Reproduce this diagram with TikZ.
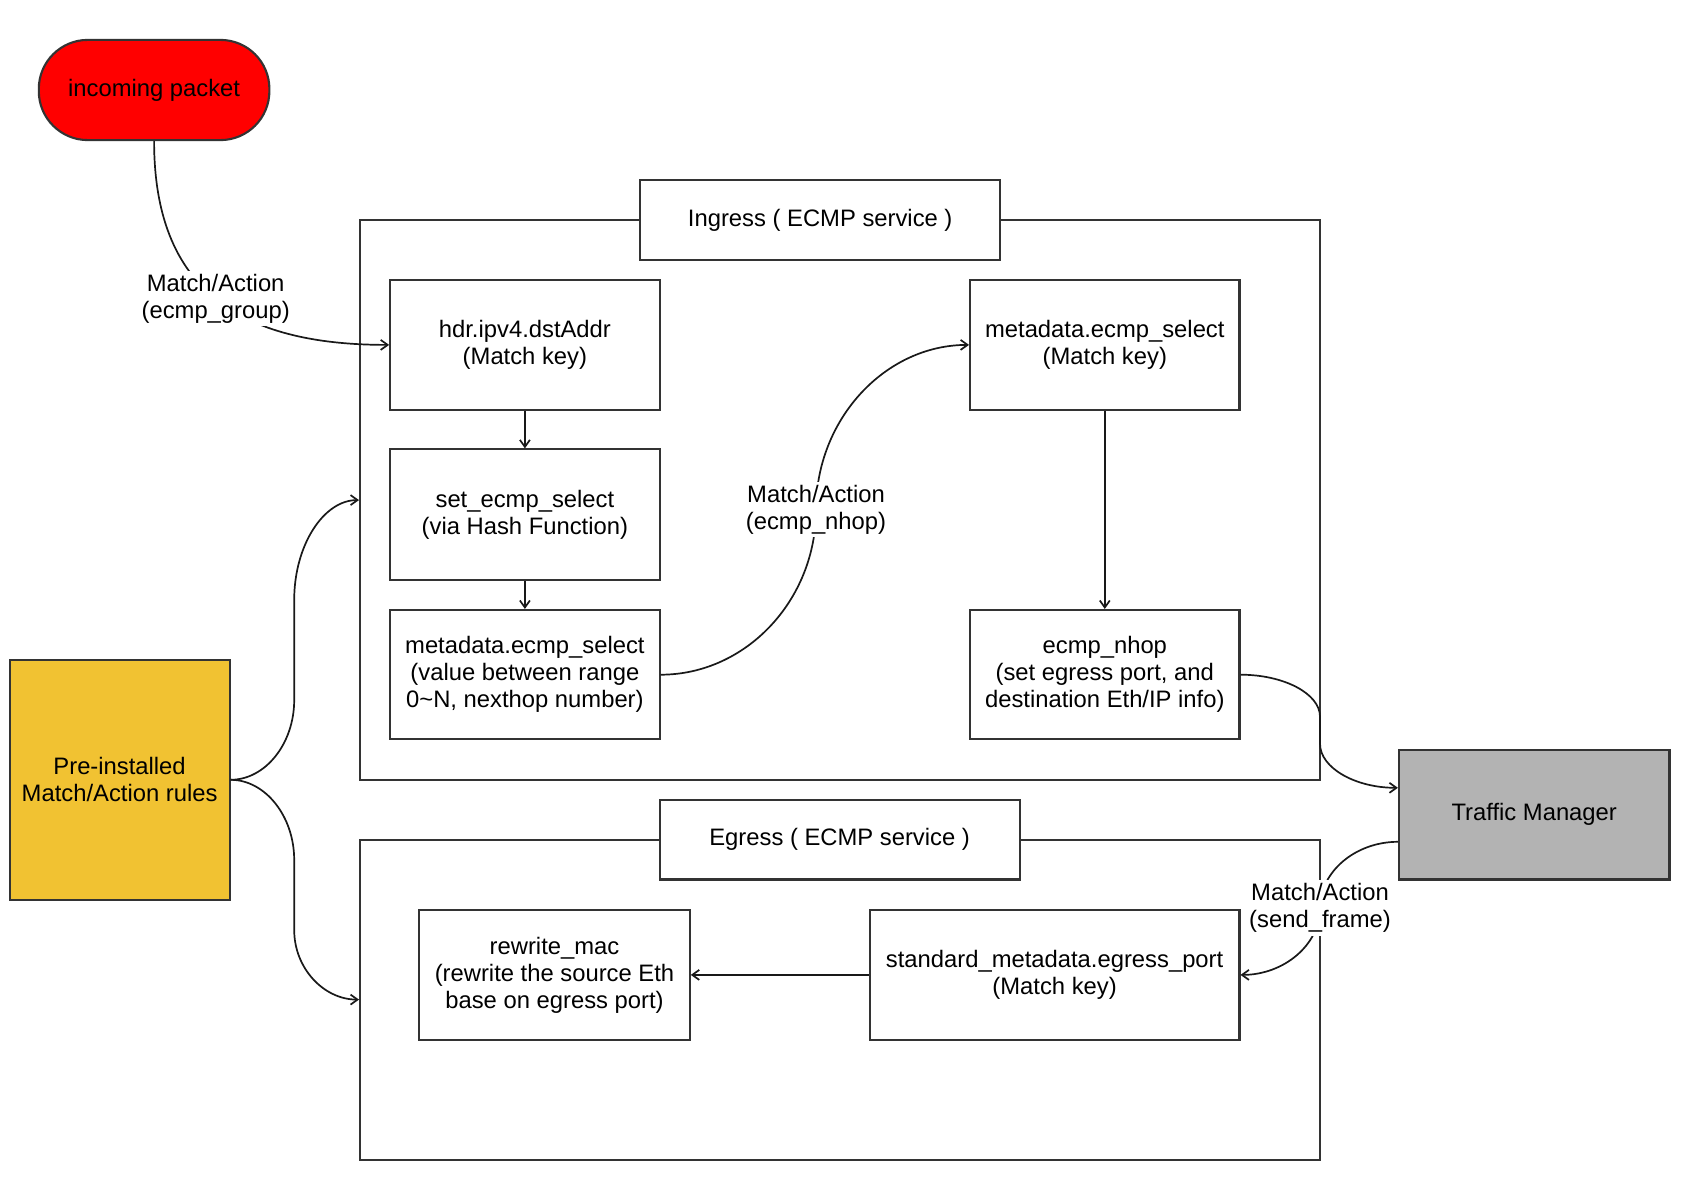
\documentclass[tikz,border=0pt]{standalone}
\usepackage{fontspec}
\setmainfont{Liberation Sans}
\usetikzlibrary{arrows.meta}
\definecolor{pktred}{HTML}{FF0000}
\definecolor{ruleyellow}{HTML}{F1C232}
\definecolor{tmgray}{HTML}{B3B3B3}
\definecolor{edgeline}{HTML}{333333}
\begin{document}
\begin{tikzpicture}[x=1pt,y=-1pt,
    every node/.style={font=\fontsize{23.8}{27}\selectfont,align=center,text=black},
    box/.style={draw=edgeline,line width=2.1pt,fill=white,minimum width=269.4pt,minimum height=129.4pt,inner sep=0pt},
    frame/.style={draw=edgeline,line width=2.1pt,minimum width=960.3pt,inner sep=0pt},
    title/.style={box,minimum width=360pt,minimum height=79.8pt},
    lbl/.style={fill=white,inner sep=3pt},
    flow/.style={-{Straight Barb[length=7pt,width=10pt]},line width=1.7pt,draw=black!90}]
    \useasboundingbox(0,0)rectangle(1690,1180);

    \node[frame,minimum height=560.4pt](ingress)at(840.2,500.1){};
    \node[frame,minimum height=320.1pt](egress)at(840.2,999.6){};
    \node[title](ingtitle)at(820.2,219.9){Ingress ( ECMP service )};
    \node[title](egrtitle)at(839.6,839.6){Egress ( ECMP service )};

    \node[box,fill=pktred,rounded corners=49pt,minimum width=230.6pt,minimum height=100.2pt](pkt)at(154.1,90){incoming packet};
    \node[box,fill=ruleyellow,minimum width=219.9pt,minimum height=240.4pt](rules)at(119.6,779.8){Pre-installed\\Match/Action rules};
    \node[box,fill=tmgray,minimum width=270.5pt](tm)at(1534.2,814.8){Traffic Manager};

    \node[box](dst)at(524.9,344.9){hdr.ipv4.dstAddr\\(Match key)};
    \node[box,minimum height=130.4pt](hash)at(524.9,514.6){set\_ecmp\_select\\(via Hash Function)};
    \node[box](sel)at(524.9,674.7){metadata.ecmp\_select\\(value between range\\0\textasciitilde N, nexthop number)};
    \node[box](selkey)at(1104.8,344.9){metadata.ecmp\_select\\(Match key)};
    \node[box](nhop)at(1104.8,674.7){ecmp\_nhop\\(set egress port, and\\destination Eth/IP info)};
    \node[box,minimum width=270.5pt,minimum height=130.4pt](mac)at(554.5,974.9){rewrite\_mac\\(rewrite the source Eth\\base on egress port)};
    \node[box,minimum width=369.7pt,minimum height=130.4pt](port)at(1054.6,974.9){standard\_metadata.egress\_port\\(Match key)};

    \draw[flow](pkt.south)..controls(154.1,290)and(240,344.9)..node[lbl]{Match/Action\\(ecmp\_group)}(dst.west);
    \draw[flow](dst)--(hash);
    \draw[flow](hash)--(sel);
    \draw[flow](sel.east)..controls(745.6,674.7)and(816,600.5)..(816,509.8)
        ..controls(816,419.1)and(885.3,344.9)..(selkey.west);
    \draw[flow](selkey)--(nhop);
    \draw[flow](nhop.east)..controls(1283.8,674.7)and(1320,693.6)..(1320,716.7)--(1320,743.7)
        ..controls(1320,768)and(1355.5,787.9)..([yshift=27pt]tm.west);
    \draw[flow]([yshift=-27pt]tm.west)..controls(1355.5,841.8)and(1320,871.6)..(1320,908)
        ..controls(1320,944.8)and(1283.8,974.9)..(port.east);
    \draw[flow](port)--(mac);
    \draw[flow](rules.east)..controls(265.1,779.8)and(294.2,744)..(294.2,700)--(294.2,600)
        ..controls(294.2,545)and(323.8,500.1)..(ingress.west);
    \draw[flow](rules.east)..controls(265.1,779.8)and(294.2,816)..(294.2,860)--(294.2,930)
        ..controls(294.2,968.3)and(323.8,999.6)..(egress.west);

    \node[lbl](nhoplbl)at(816,509.8){Match/Action\\(ecmp\_nhop)};
    \node[lbl](framelbl)at(1320,908){Match/Action\\(send\_frame)};
\end{tikzpicture}
\end{document}
